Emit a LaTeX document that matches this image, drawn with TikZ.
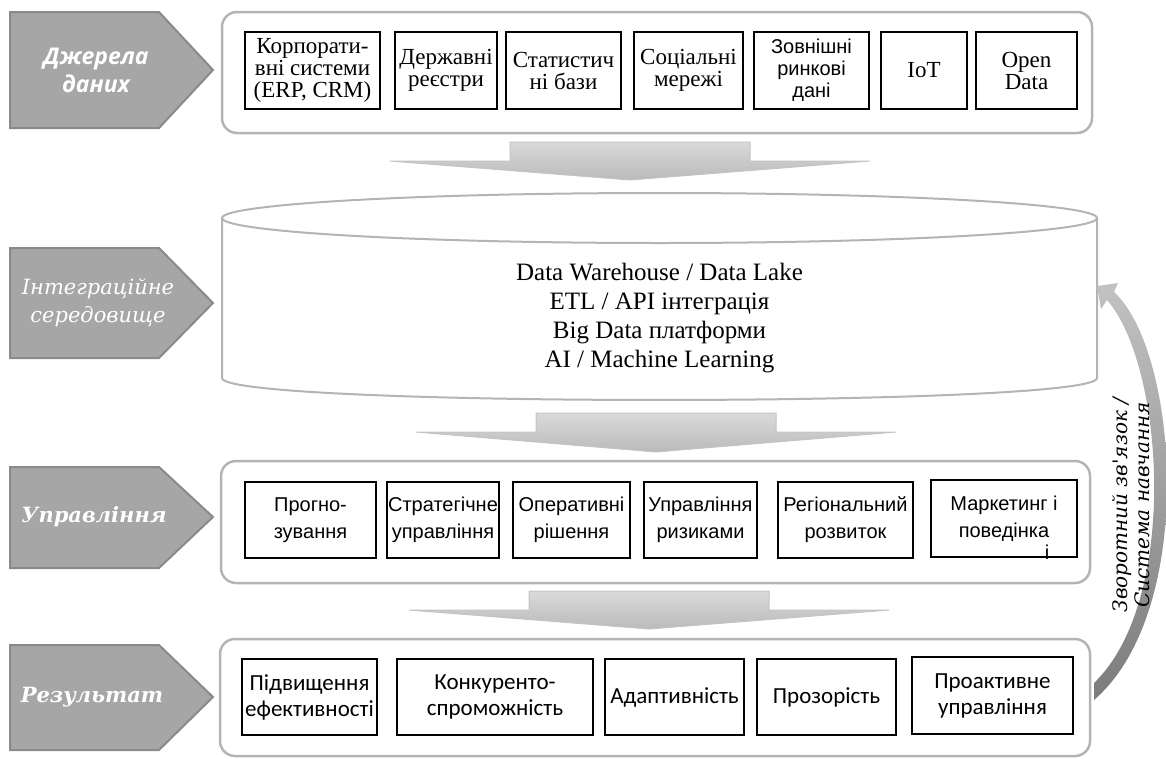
\documentclass[tikz,border=0pt]{standalone}
\usepackage{fontspec}
\setmainfont{Liberation Serif}
\newfontfamily\itserif{DejaVu Serif}
\newfontfamily\boxsans{Liberation Sans}
\newfontfamily\ressans{Carlito}
\newfontfamily\tabsans{Open Sans}
\usepackage{tikz}
\usetikzlibrary{shapes,arrows}
\usepackage{xcolor}
\definecolor{tabfill}{HTML}{A6A6A6}
\definecolor{tabline}{HTML}{8A8A8A}
\definecolor{panelline}{HTML}{B4B4B4}
\definecolor{flowtop}{HTML}{DADADA}
\definecolor{flowbot}{HTML}{BABABA}
\definecolor{flowline}{HTML}{C4C4C4}
\definecolor{looptop}{HTML}{C2C2C2}
\definecolor{loopbot}{HTML}{7C7C7C}
\tikzset{tab/.style = {fill=tabfill, draw=tabline, line width=2pt}}
\tikzset{tabsanstext/.style = {text=white, align=center, font=\tabsans\fontsize{23}{28}\selectfont\bfseries\itshape}}
\tikzset{tabseriftext/.style = {text=white, align=center, font=\itserif\fontsize{21}{28}\selectfont\itshape}}
\tikzset{tabboldtext/.style = {text=white, align=center, font=\itserif\fontsize{21}{28}\selectfont\bfseries\itshape}}
\tikzset{panel/.style = {draw=panelline, line width=2.5pt, rounded corners=15pt, inner sep=0pt}}
\tikzset{item/.style = {draw, line width=1.2pt, align=center, inner sep=0pt}}
\tikzset{serifbox/.style = {font=\fontsize{23}{22}\selectfont}}
\tikzset{sansbox/.style = {font=\boxsans\fontsize{20}{22}\selectfont}}
\tikzset{mgmtbox/.style = {font=\boxsans\fontsize{20}{27}\selectfont}}
\tikzset{resbox/.style = {font=\ressans\fontsize{23}{26}\selectfont}}
\tikzset{flowarrow/.style = {top color=flowtop, bottom color=flowbot, draw=flowline, line width=1pt}}

\begin{document}
\begin{tikzpicture}[x=1pt,y=-1pt]
		\useasboundingbox (0,0) rectangle (1166,758);
		% tabs
		\filldraw[tab] (10,12) -- (159,12) -- (213,70) -- (159,128) -- (10,128) -- cycle;
		\filldraw[tab] (10,248) -- (159,248) -- (213,303) -- (159,358) -- (10,358) -- cycle;
		\filldraw[tab] (10,467) -- (159,467) -- (213,517) -- (159,568) -- (10,568) -- cycle;
		\filldraw[tab] (10,645) -- (159,645) -- (213,697) -- (159,750) -- (10,750) -- cycle;
		\node[tabsanstext] (src) at (96,70) {Джерела\\даних};
		\node[tabseriftext] (integ) at (98,303) {Інтеграційне\\середовище};
		\node[tabboldtext] (mgmt) at (94,517) {Управління};
		\node[tabboldtext] (res) at (92,697) {Результат};
		% panels
		\node[panel, minimum width=870, minimum height=121] (srcpanel) at (657,72.5) {};
		\node[panel, minimum width=869, minimum height=122] (mgmtpanel) at (655.5,522) {};
		\node[panel, minimum width=870, minimum height=117] (respanel) at (655,697.5) {};
		% storage
		\draw[draw=panelline, line width=2pt, fill=white] (222,218) -- (222,378)
			.. controls (222,407.3) and (1097,407.3) .. (1097,378) -- (1097,218);
		\draw[draw=panelline, line width=2pt] (659.5,218) ellipse [x radius=437.5, y radius=25];
		\node[align=center, font=\fontsize{25}{29}\selectfont] (dwh) at (659.5,318)
			{Data Warehouse / Data Lake\\ETL / API інтеграція\\Big Data платформи\\AI / Machine Learning};
		% sources
		\node[item, serifbox, minimum width=135, minimum height=77] (erp) at (312.5,70.5) {Корпорати-\\вні системи\\(ERP, CRM)};
		\node[item, serifbox, minimum width=102, minimum height=77] (reg) at (446,70.5) {Державні\\реєстри};
		\node[item, serifbox, minimum width=115, minimum height=77] (stat) at (563.5,70.5) {Статистич\\ні бази};
		\node[item, serifbox, minimum width=109, minimum height=77] (soc) at (688.5,70.5) {Соціальні\\мережі};
		\node[item, sansbox, minimum width=115, minimum height=77] (mkt) at (811.5,70.5) {Зовнішні\\ринкові\\дані};
		\node[item, serifbox, minimum width=86, minimum height=77] (iot) at (924,70.5) {IoT};
		\node[item, serifbox, minimum width=101, minimum height=77] (open) at (1026.5,70.5) {Open\\Data};
		% management
		\node[item, mgmtbox, minimum width=131, minimum height=76] (fcst) at (310.5,520) {Прогно-\\зування};
		\node[item, mgmtbox, minimum width=112, minimum height=76] (strat) at (443,520) {Стратегічне\\управління};
		\node[item, mgmtbox, minimum width=117, minimum height=76] (oper) at (571.5,520) {Оперативні\\рішення};
		\node[item, mgmtbox, minimum width=113, minimum height=76] (risk) at (700.5,520) {Управління\\ризиками};
		\node[item, mgmtbox, minimum width=135, minimum height=76] (regdev) at (845.5,520) {Регіональний\\розвиток};
		\node[item, mgmtbox, minimum width=146, minimum height=77] (behav) at (1004,518.5) {Маркетинг і\\поведінка};
		\node[mgmtbox, inner sep=0pt] (behavi) at (1047,552) {і};
		% results
		\node[item, resbox, minimum width=135, minimum height=76] (eff) at (309.5,697) {Підвищення\\ефективності};
		\node[item, resbox, minimum width=196, minimum height=76] (comp) at (495,697) {Конкуренто-\\спроможність};
		\node[item, resbox, minimum width=139, minimum height=76] (adapt) at (674.5,697) {Адаптивність};
		\node[item, resbox, minimum width=139, minimum height=76] (transp) at (826.5,697) {Прозорість};
		\node[item, resbox, minimum width=161, minimum height=77] (proact) at (992.5,695.5) {Проактивне\\управління};
		% flow arrows
		\path[flowarrow] (510,142) -- (750,142) -- (750,161) -- (870,161) -- (630,180) -- (390,161) -- (510,161) -- cycle;
		\path[flowarrow] (536,413) -- (776,413) -- (776,432) -- (896,432) -- (656,452) -- (416,432) -- (536,432) -- cycle;
		\path[flowarrow] (529,591) -- (769,591) -- (769,610) -- (889,610) -- (649,629) -- (409,610) -- (529,610) -- cycle;
		% feedback
		\path[top color=looptop, bottom color=loopbot] (1094,683)
			.. controls (1180,600) and (1164,365) .. (1107,300) -- (1101,309) -- (1097,286) -- (1118,283) -- (1114,292)
			.. controls (1178,350) and (1198,610) .. (1094,700) -- cycle;
		\node[rotate=90, align=center, font=\itserif\fontsize{20}{22}\selectfont\itshape] (fb) at (1131,505)
			{Зворотний зв'язок /\\Система навчання};
	\end{tikzpicture}
\end{document}
